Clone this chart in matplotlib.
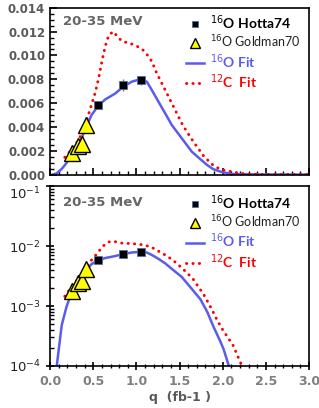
import numpy as np
import matplotlib.pyplot as plt
from matplotlib.lines import Line2D
from matplotlib.ticker import MultipleLocator, LogLocator, NullFormatter

# data
hotta_q = [0.55, 0.85, 1.05]
hotta_v = [0.0058, 0.0075, 0.0079]
hotta_err = [0.0002, 0.0005, 0.0004]

goldman_q = [0.25, 0.32, 0.37, 0.42]
goldman_v = [0.0018, 0.0024, 0.0026, 0.0042]

o16_q = [0.03, 0.077, 0.135, 0.19, 0.25, 0.30, 0.36, 0.42, 0.48, 0.55, 0.637,
         0.753, 0.849, 0.947, 1.043, 1.12, 1.178, 1.255, 1.333, 1.41, 1.526,
         1.642, 1.74, 1.82, 1.89, 1.97, 2.01, 2.07, 2.10, 2.5, 3.0]
o16_v = [1e-5, 1e-4, 4.8e-4, 9.7e-4, 1.7e-3, 2.3e-3, 3.0e-3, 4.0e-3, 5.0e-3,
         5.7e-3, 6.3e-3, 6.8e-3, 7.38e-3, 7.8e-3, 8.0e-3, 7.8e-3, 7.1e-3,
         6.12e-3, 5.14e-3, 4.16e-3, 3.04e-3, 1.92e-3, 1.3e-3, 8e-4, 4.6e-4,
         2.6e-4, 1.9e-4, 1e-4, 5e-5, 1e-5, 1e-5]

c12_q = [0.17, 0.25, 0.33, 0.40, 0.46, 0.52, 0.56, 0.60, 0.64, 0.68, 0.73,
         0.78, 0.83, 0.93, 1.00, 1.07, 1.12, 1.178, 1.236, 1.294, 1.352,
         1.41, 1.468, 1.526, 1.584, 1.66, 1.78, 1.87, 1.93, 2.0, 2.12, 2.21,
         2.3, 3.0]
c12_v = [1.45e-3, 2.1e-3, 2.9e-3, 4.0e-3, 5.4e-3, 6.8e-3, 8.0e-3, 9.5e-3,
         1.08e-2, 1.17e-2, 1.20e-2, 1.16e-2, 1.12e-2, 1.10e-2, 1.08e-2,
         1.05e-2, 1.01e-2, 9.5e-3, 8.5e-3, 7.66e-3, 6.82e-3, 5.98e-3, 5.14e-3,
         4.3e-3, 3.6e-3, 2.76e-3, 1.55e-3, 9e-4, 6e-4, 4e-4, 2.2e-4, 1.1e-4,
         2e-5, 1e-5]

BLUE = '#5b5bf0'
RED = '#ff0000'
GRAY = '#7f7f7f'
DOTS = (0, (0.1, 2.1))


def draw_panel(ax, leg_y, title_y):
    ax.plot(o16_q, o16_v, color=BLUE, lw=1.8)
    ax.plot(c12_q, c12_v, color=RED, lw=2.1, linestyle=DOTS,
            dash_capstyle='round')
    ax.errorbar(hotta_q, hotta_v, yerr=hotta_err, fmt='none',
                ecolor='#777777', elinewidth=1, capsize=0, zorder=3)
    ax.plot(hotta_q, hotta_v, 's', ms=5.8, mfc='black', mec='#4f6fa0',
            mew=0.6, zorder=4)
    ax.plot(goldman_q, goldman_v, '^', ms=11, mfc='#ffff00', mec='black',
            mew=1, zorder=5)
    ax.text(0.05, title_y, '20-35 MeV', transform=ax.transAxes, va='center',
            fontsize=9.5, fontweight='bold', color='#666666')

    handles = [
        Line2D([], [], ls='none', marker='s', ms=4.5, mfc='black',
               mec='#4f6fa0', mew=0.6),
        Line2D([], [], ls='none', marker='^', ms=6.5, mfc='#ffff00',
               mec='black', mew=1),
        Line2D([], [], color=BLUE, lw=1.8),
        Line2D([], [], color=RED, lw=2.1, ls=DOTS, dash_capstyle='round'),
    ]
    labels = [r'$^{16}$O Hotta74', r'$^{16}$O Goldman70',
              r'$^{16}$O Fit', r'$^{12}$C  Fit']
    leg = ax.legend(handles, labels, loc='upper left',
                    bbox_to_anchor=(0.525, leg_y), frameon=False,
                    handlelength=1.3, handletextpad=0.45, labelspacing=0.12,
                    borderaxespad=0, borderpad=0,
                    prop={'family': 'Lato', 'size': 10, 'weight': 'bold'})
    texts = leg.get_texts()
    texts[1].set_fontweight('normal')
    texts[1].set_fontsize(9)
    texts[1].set_color('#222222')
    texts[2].set_color(BLUE)
    texts[3].set_color(RED)

    ax.set_xlim(0, 3.0)
    ax.xaxis.set_major_locator(MultipleLocator(0.5))
    ax.xaxis.set_minor_locator(MultipleLocator(0.1))
    for s in ax.spines.values():
        s.set_linewidth(1.2)


fig = plt.figure(figsize=(3.19, 4.08), dpi=100)
ax1 = fig.add_axes([0.157, 0.572, 0.812, 0.409])
ax2 = fig.add_axes([0.157, 0.103, 0.812, 0.441])

draw_panel(ax1, 0.965, 0.915)
ax1.set_ylim(0, 0.014)
ax1.yaxis.set_major_locator(MultipleLocator(0.002))
ax1.yaxis.set_minor_locator(MultipleLocator(0.0005))
ax1.yaxis.set_major_formatter(plt.FormatStrFormatter('%.3f'))
ax1.tick_params(axis='both', which='both', direction='in', top=False, right=False)
ax1.tick_params(which='major', length=5, width=1.2)
ax1.tick_params(which='minor', length=3, width=1)
ax1.tick_params(axis='x', labelbottom=False)
ax1.tick_params(axis='y', labelsize=8.5, labelcolor='#595959')
for t in ax1.get_yticklabels():
    t.set_fontweight('bold')

draw_panel(ax2, 0.96, 0.91)
ax2.set_yscale('log')
ax2.set_ylim(1e-4, 1e-1)
ax2.yaxis.set_major_locator(LogLocator(base=10, numticks=10))
ax2.yaxis.set_minor_locator(LogLocator(base=10, subs=np.arange(2, 10), numticks=10))
ax2.yaxis.set_minor_formatter(NullFormatter())
ax2.tick_params(axis='both', which='both', top=False, right=False)
ax2.tick_params(axis='x', which='both', direction='inout')
ax2.tick_params(axis='y', which='major', direction='inout')
ax2.tick_params(axis='y', which='minor', direction='in')
ax2.tick_params(which='major', length=6, width=1.2)
ax2.tick_params(which='minor', length=3, width=1)
ax2.tick_params(axis='y', labelsize=9.5, labelcolor='#222222')
ax2.tick_params(axis='x', labelsize=9, labelcolor=GRAY)
for t in ax2.get_xticklabels():
    t.set_fontweight('bold')
ax2.set_xlabel('q  (fb-1 )', fontsize=9, fontweight='bold', color='#595959',
               labelpad=2)

# the top decade label sits a little below its tick, as in the original
fig.canvas.draw()
for tick in ax2.yaxis.get_major_ticks():
    if abs(tick.get_loc() - 1e-1) < 1e-9:
        tick.label1.set_verticalalignment('top')

fig.savefig('out.png', dpi=100)
